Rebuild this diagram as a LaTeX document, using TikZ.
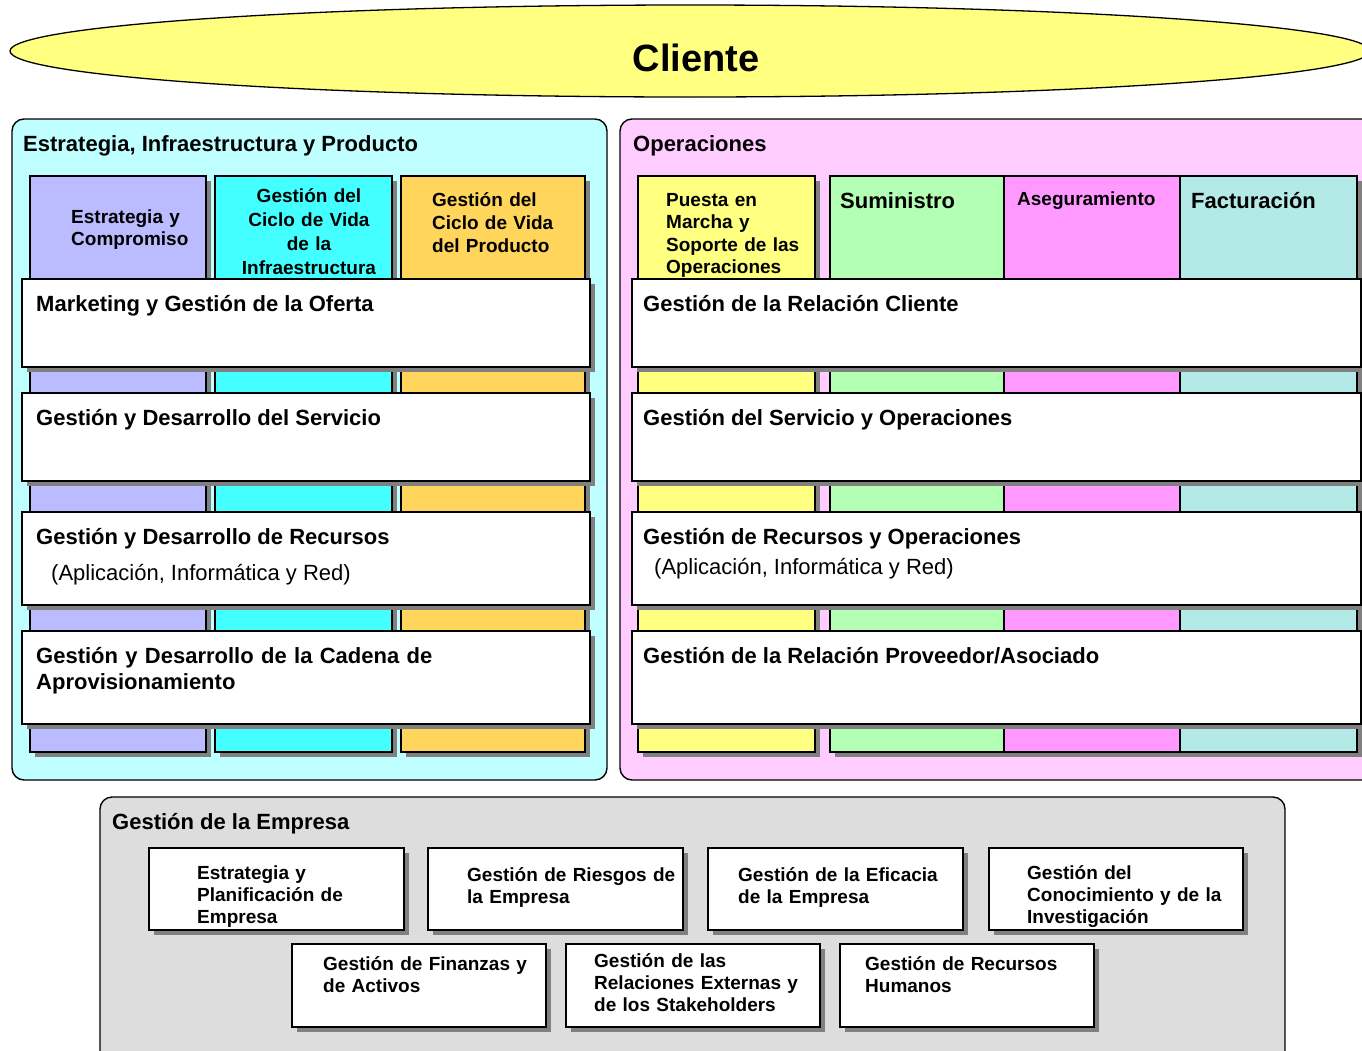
\documentclass[tikz,border=0pt]{standalone}
\usepackage{fontspec}
\setmainfont{Liberation Sans}
\usetikzlibrary{shapes.geometric,shadows}

\definecolor{cliyellow}{HTML}{FFFF80}
\definecolor{panelcyan}{HTML}{BFFFFF}
\definecolor{panelpink}{HTML}{FFCCFF}
\definecolor{panelgray}{HTML}{DDDDDD}
\definecolor{lav}{HTML}{BBBBFF}
\definecolor{cyanc}{HTML}{44FFFF}
\definecolor{goldc}{HTML}{FFD55B}
\definecolor{yelc}{HTML}{FFFF80}
\definecolor{grnc}{HTML}{B3FFB3}
\definecolor{magc}{HTML}{FF99FF}
\definecolor{tealc}{HTML}{B3E9E6}
\definecolor{shadowgray}{HTML}{808080}

\newcommand\setfs[2]{\fontsize{#1}{#2}\selectfont}

\begin{document}
\begin{tikzpicture}[x=1pt,y=-1pt,
  panel/.style={draw=black, line width=1.4pt, rounded corners=12pt, rectangle,
    anchor=north west, inner sep=0pt, outer sep=0pt},
  box/.style={draw=black, line width=1.2pt, rectangle, anchor=north west,
    inner sep=0pt, outer sep=0pt,
    general shadow={fill=shadowgray, shadow xshift=5pt, shadow yshift=-5pt}},
  rowbox/.style={box, fill=white},
  ttl/.style={anchor=base west, inner sep=0pt, font=\bfseries\setfs{22}{26}},
  sub/.style={anchor=base west, inner sep=0pt, font=\setfs{22}{26}},
  hdr/.style={anchor=base west, inner sep=0pt, font=\bfseries\setfs{19}{22},
    text width=200pt, align=left},
  ttlm/.style={anchor=base west, inner sep=0pt, font=\bfseries\setfs{22}{26},
    text width=560pt, align=left},
]
\useasboundingbox (0,0) rectangle (1362,1050);
\clip (0,0) rectangle (1362,1050);

% ---------- customer ----------
\node[draw=black, line width=1.3pt, ellipse, fill=cliyellow, inner sep=0pt,
  minimum width=1360pt, minimum height=92pt] (cliente) at (690,51) {};
\node[font=\bfseries\setfs{38}{44}, inner sep=0pt, anchor=base] (cliente-t)
  at (696,71.5) {Cliente};

% ---------- panels ----------
\node[panel, fill=panelcyan, minimum width=595pt, minimum height=661pt] (eip) at (12,119) {};
\node[panel, fill=panelpink, minimum width=770pt, minimum height=661pt] (ops) at (620,119) {};
\node[panel, fill=panelgray, minimum width=1185pt, minimum height=270pt] (emp) at (100,797) {};

\node[ttl] (eip-t) at (23,151) {Estrategia, Infraestructura y Producto};
\node[ttl] (ops-t) at (633,151) {Operaciones};
\node[ttl] (emp-t) at (112,829) {Gestión de la Empresa};

% ---------- vertical columns, left ----------
\node[box, fill=lav,   minimum width=176pt, minimum height=576pt] (c1) at (30,176) {};
\node[box, fill=cyanc, minimum width=177pt, minimum height=576pt] (c2) at (215,176) {};
\node[box, fill=goldc, minimum width=184pt, minimum height=576pt] (c3) at (401,176) {};

\node[hdr] (c1-t) at (71,223) {Estrategia y\\Compromiso};
\node[anchor=base, inner sep=0pt, font=\bfseries\setfs{19}{24.3},
  text width=177pt, align=center] (c2-t) at (309,202)
  {Gestión del\\Ciclo de Vida\\de la\\Infraestructura};
\node[anchor=base west, inner sep=0pt, font=\bfseries\setfs{19}{23},
  text width=160pt, align=left] (c3-t) at (432,206)
  {Gestión del\\Ciclo de Vida\\del Producto};

% ---------- vertical columns, right ----------
\node[box, fill=yelc,  minimum width=177pt, minimum height=576pt] (ca) at (638,176) {};
\node[box, fill=grnc,  minimum width=174pt, minimum height=576pt] (cb) at (830,176) {};
\node[box, fill=magc,  minimum width=176pt, minimum height=576pt] (cc) at (1004,176) {};
\node[box, fill=tealc, minimum width=177pt, minimum height=576pt] (cd) at (1180,176) {};

\node[anchor=base west, inner sep=0pt, font=\bfseries\setfs{19}{22.5},
  text width=160pt, align=left] (ca-t) at (666,206)
  {Puesta en\\Marcha y\\Soporte de las\\Operaciones};
\node[ttl] (cb-t) at (840,208) {Suministro};
\node[anchor=base west, inner sep=0pt, font=\bfseries\setfs{19}{22}] (cc-t)
  at (1017,205) {Aseguramiento};
\node[ttl] (cd-t) at (1191,208) {Facturación};

% ---------- horizontal processes, left ----------
\node[rowbox, minimum width=568pt, minimum height=88pt] (l1) at (22,279) {};
\node[rowbox, minimum width=568pt, minimum height=88pt] (l2) at (22,393) {};
\node[rowbox, minimum width=568pt, minimum height=93pt] (l3) at (22,512) {};
\node[rowbox, minimum width=568pt, minimum height=93pt] (l4) at (22,631) {};

\node[ttl] (l1-t) at (36,311) {Marketing y Gestión de la Oferta};
\node[ttl] (l2-t) at (36,425) {Gestión y Desarrollo del Servicio};
\node[ttl] (l3-t) at (36,544) {Gestión y Desarrollo de Recursos};
\node[sub] (l3-s) at (51,580) {(Aplicación, Informática y Red)};
\node[ttlm] (l4-t) at (36,663) {Gestión y Desarrollo de la Cadena de\\Aprovisionamiento};

% ---------- horizontal processes, right ----------
\node[rowbox, minimum width=729pt, minimum height=88pt] (r1) at (632,279) {};
\node[rowbox, minimum width=729pt, minimum height=88pt] (r2) at (632,393) {};
\node[rowbox, minimum width=729pt, minimum height=93pt] (r3) at (632,512) {};
\node[rowbox, minimum width=729pt, minimum height=93pt] (r4) at (632,631) {};

\node[ttl] (r1-t) at (643,311) {Gestión de la Relación Cliente};
\node[ttl] (r2-t) at (643,425) {Gestión del Servicio y Operaciones};
\node[ttl] (r3-t) at (643,544) {Gestión de Recursos y Operaciones};
\node[sub] (r3-s) at (654,574) {(Aplicación, Informática y Red)};
\node[ttl] (r4-t) at (643,663) {Gestión de la Relación Proveedor/Asociado};

% ---------- enterprise management ----------
\node[rowbox, minimum width=255pt, minimum height=82pt] (b1) at (149,848) {};
\node[rowbox, minimum width=255pt, minimum height=82pt] (b2) at (428,848) {};
\node[rowbox, minimum width=255pt, minimum height=82pt] (b3) at (708,848) {};
\node[rowbox, minimum width=254pt, minimum height=82pt] (b4) at (989,848) {};
\node[rowbox, minimum width=254pt, minimum height=83pt] (b5) at (292,944) {};
\node[rowbox, minimum width=254pt, minimum height=83pt] (b6) at (566,944) {};
\node[rowbox, minimum width=254pt, minimum height=83pt] (b7) at (840,944) {};

\node[hdr] (b1-t) at (197,879) {Estrategia y\\Planificación de\\Empresa};
\node[hdr, text width=220pt] (b2-t) at (467,881) {Gestión de Riesgos de\\la Empresa};
\node[hdr, text width=220pt] (b3-t) at (738,881) {Gestión de la Eficacia\\de la Empresa};
\node[hdr, text width=220pt] (b4-t) at (1027,879) {Gestión del\\Conocimiento y de la\\Investigación};
\node[hdr, text width=220pt] (b5-t) at (323,970) {Gestión de Finanzas y\\de Activos};
\node[hdr, text width=220pt] (b6-t) at (594,967) {Gestión de las\\Relaciones Externas y\\de los Stakeholders};
\node[hdr, text width=220pt] (b7-t) at (865,970) {Gestión de Recursos\\Humanos};
\end{tikzpicture}
\end{document}
